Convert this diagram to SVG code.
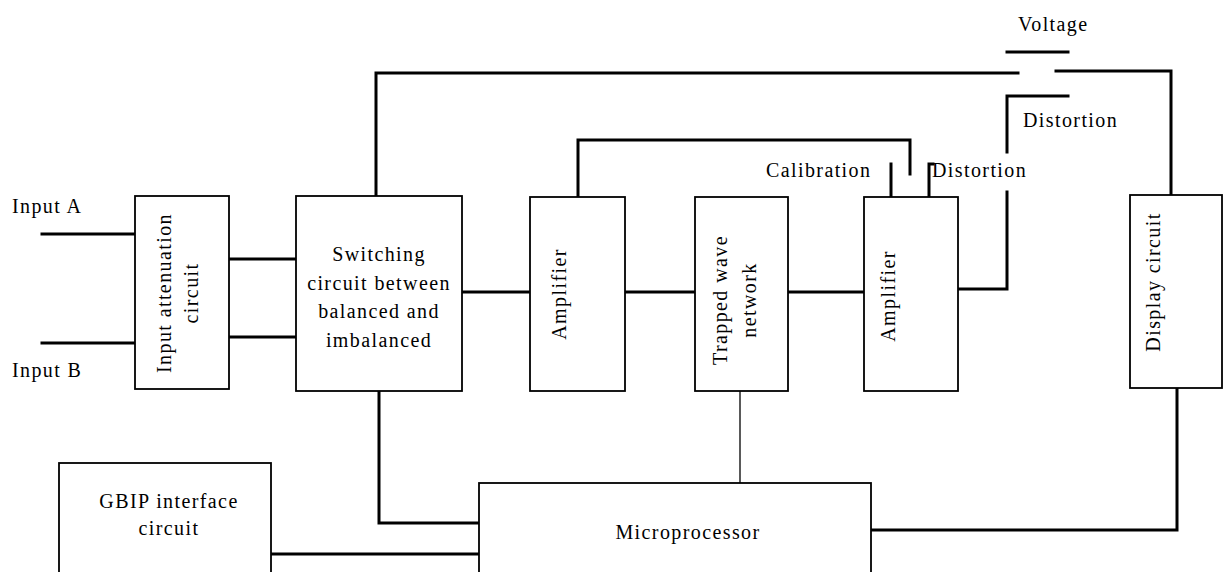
<svg xmlns="http://www.w3.org/2000/svg" width="1226" height="572" viewBox="0 0 1226 572">
<style>
.box{fill:#fff;stroke:#000;stroke-width:1.8}
.w{fill:none;stroke:#000;stroke-width:3;stroke-linecap:square}
.t{fill:none;stroke:#000;stroke-width:1.3}
text{font-family:'Liberation Serif',serif;font-size:20px;fill:#000;letter-spacing:1.4px}
.m{text-anchor:middle}
</style>
<rect width="1226" height="572" fill="#fff"/>
<g id="connectors">
<polyline class="w" points="42,234 134,234"/>
<polyline class="w" points="42,343 134,343"/>
<polyline class="w" points="229,259 296,259"/>
<polyline class="w" points="229,337 296,337"/>
<polyline class="w" points="462,292 530,292"/>
<polyline class="w" points="625,292 695,292"/>
<polyline class="w" points="788,292 863,292"/>
<polyline class="w" points="376,196 376,73 1018,73"/>
<polyline class="w" points="1056,71 1171,71 1171,195"/>
<polyline class="w" points="1007,52 1068,52"/>
<polyline class="w" points="1068,96 1007,96 1007,152"/>
<polyline class="w" points="958,289 1007,289 1007,192"/>
<polyline class="w" points="578,197 578,140 910,140 910,174"/>
<polyline class="w" points="891,164 891,197"/>
<polyline class="w" points="929,197 929,164 933,164"/>
<polyline class="w" points="379,391 379,523 479,523"/>
<polyline class="w" points="271,554 479,554"/>
<line class="t" x1="740" y1="391" x2="740" y2="483"/>
<polyline class="w" points="871,530 1177,530 1177,388"/>
</g>
<g id="input-attenuation"><rect class="box" x="135" y="196" width="94" height="193"/>
<text class="m" transform="translate(171,293) rotate(-90)">Input attenuation</text>
<text class="m" transform="translate(198,293) rotate(-90)">circuit</text></g>
<g id="switching"><rect class="box" x="296" y="196" width="166" height="195"/>
<text class="m" x="379" y="261">Switching</text>
<text class="m" x="379" y="290">circuit between</text>
<text class="m" x="379" y="318">balanced and</text>
<text class="m" x="379" y="347">imbalanced</text></g>
<g id="amplifier1"><rect class="box" x="530" y="197" width="95" height="194"/>
<text class="m" transform="translate(566,294) rotate(-90)">Amplifier</text></g>
<g id="trapped"><rect class="box" x="695" y="197" width="93" height="194"/>
<text class="m" transform="translate(727,300) rotate(-90)">Trapped wave</text>
<text class="m" transform="translate(756,300) rotate(-90)">network</text></g>
<g id="amplifier2"><rect class="box" x="864" y="197" width="94" height="194"/>
<text class="m" transform="translate(895,296) rotate(-90)">Amplifier</text></g>
<g id="display"><rect class="box" x="1130" y="195" width="92" height="193"/>
<text class="m" transform="translate(1160,282) rotate(-90)">Display circuit</text></g>
<g id="gbip"><rect class="box" x="59" y="463" width="212" height="120"/>
<text class="m" x="169" y="508">GBIP interface</text>
<text class="m" x="169" y="535">circuit</text></g>
<g id="microprocessor"><rect class="box" x="479" y="483" width="392" height="100"/>
<text class="m" x="688" y="539">Microprocessor</text></g>
<g id="labels">
<text x="12" y="213">Input A</text>
<text x="12" y="377">Input B</text>
<text x="1018" y="31">Voltage</text>
<text x="1023" y="127">Distortion</text>
<text x="766" y="177">Calibration</text>
<text x="932" y="177">Distortion</text>
</g>
</svg>
